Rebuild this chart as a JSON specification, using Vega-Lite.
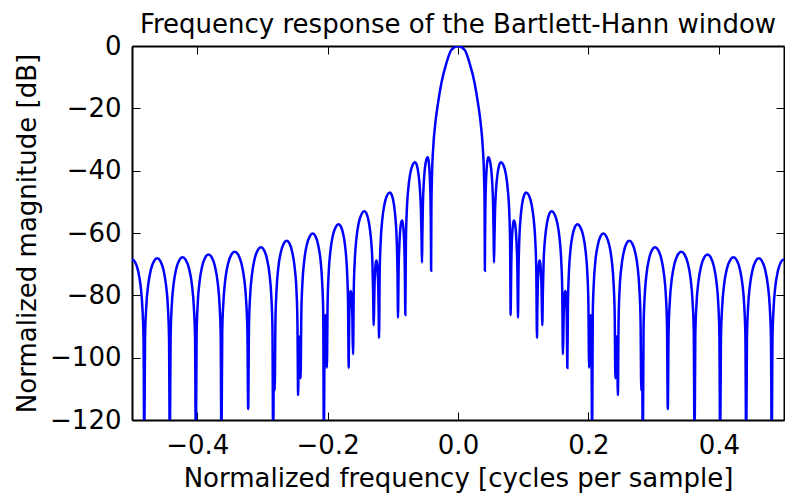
{
"$schema":"https://vega.github.io/schema/vega-lite/v6.json",
"width":652,"height":374,
"autosize":{"type":"none"},
"padding":{"left":132,"top":46,"right":1,"bottom":76},
"background":"white",
"title":{"text":"Frequency response of the Bartlett-Hann window","font":"DejaVu Sans","fontSize":26,"fontWeight":"normal","color":"black","anchor":"middle","baseline":"alphabetic","offset":12,"dy":38},
"config":{"view":{"stroke":null},"axis":{"domainColor":"black","domainWidth":2,"tickColor":"black","tickWidth":1,"tickSize":-8,"grid":false,"labelFont":"DejaVu Sans","labelFontSize":26,"labelColor":"black","titleFont":"DejaVu Sans","titleFontSize":26,"titleFontWeight":"normal","titleColor":"black","zindex":1}},
"data":{"values":[
{"freq":0,"db":0},{"freq":0.0103,"db":-1.3},{"freq":0.0179,"db":-5.6},{"freq":0.0256,"db":-12.0},{"freq":0.0307,"db":-18.4},{"freq":0.0348,"db":-24.8},{"freq":0.0379,"db":-32.3},{"freq":0.0398,"db":-40.9},{"freq":0.0408,"db":-52},{"freq":0.0412,"db":-72.1},
{"freq":0.0415,"db":-61.4},{"freq":0.0420,"db":-51.5},{"freq":0.0428,"db":-44.3},{"freq":0.0439,"db":-39.5},{"freq":0.0452,"db":-36.6},{"freq":0.0465,"db":-35.7},{"freq":0.0487,"db":-36.6},{"freq":0.0509,"db":-39.5},{"freq":0.0526,"db":-44.3},{"freq":0.0539,"db":-51.5},{"freq":0.0547,"db":-61.4},{"freq":0.0552,"db":-69.5},
{"freq":0.0558,"db":-63.0},{"freq":0.0568,"db":-53.1},{"freq":0.0584,"db":-45.9},{"freq":0.0606,"db":-41.1},{"freq":0.0632,"db":-38.2},{"freq":0.0659,"db":-37.3},{"freq":0.0696,"db":-38.2},{"freq":0.0734,"db":-41.1},{"freq":0.0763,"db":-45.9},{"freq":0.0786,"db":-53.1},{"freq":0.0799,"db":-63.0},{"freq":0.0808,"db":-86.3},
{"freq":0.0811,"db":-81.7},{"freq":0.0816,"db":-71.8},{"freq":0.0823,"db":-64.6},{"freq":0.0833,"db":-59.8},{"freq":0.0846,"db":-56.9},{"freq":0.0858,"db":-56.0},{"freq":0.0874,"db":-56.9},{"freq":0.0889,"db":-59.8},{"freq":0.0901,"db":-64.6},{"freq":0.0911,"db":-71.8},{"freq":0.0916,"db":-81.7},{"freq":0.0920,"db":-87.2},
{"freq":0.0928,"db":-72.7},{"freq":0.0939,"db":-62.8},{"freq":0.0958,"db":-55.6},{"freq":0.0983,"db":-50.8},{"freq":0.1014,"db":-47.9},{"freq":0.1045,"db":-47.0},{"freq":0.1087,"db":-47.9},{"freq":0.1128,"db":-50.8},{"freq":0.1161,"db":-55.6},{"freq":0.1186,"db":-62.8},{"freq":0.1201,"db":-72.7},{"freq":0.1211,"db":-93.7},
{"freq":0.1217,"db":-84.6},{"freq":0.1223,"db":-77.4},{"freq":0.1232,"db":-72.6},{"freq":0.1242,"db":-69.7},{"freq":0.1252,"db":-68.8},{"freq":0.1262,"db":-69.7},{"freq":0.1272,"db":-72.6},{"freq":0.1281,"db":-77.4},{"freq":0.1287,"db":-84.6},{"freq":0.1293,"db":-89.6},
{"freq":0.1302,"db":-78.7},{"freq":0.1314,"db":-68.8},{"freq":0.1336,"db":-61.6},{"freq":0.1365,"db":-56.8},{"freq":0.1400,"db":-53.9},{"freq":0.1436,"db":-53.0},{"freq":0.1479,"db":-53.9},{"freq":0.1523,"db":-56.8},{"freq":0.1557,"db":-61.6},{"freq":0.1583,"db":-68.8},{"freq":0.1599,"db":-78.7},{"freq":0.1609,"db":-98.9},
{"freq":0.1615,"db":-94.4},{"freq":0.1620,"db":-87.2},{"freq":0.1628,"db":-82.4},{"freq":0.1637,"db":-79.5},{"freq":0.1646,"db":-78.6},{"freq":0.1654,"db":-79.5},{"freq":0.1662,"db":-82.4},{"freq":0.1668,"db":-87.2},{"freq":0.1672,"db":-94.4},{"freq":0.1677,"db":-103.3},
{"freq":0.1686,"db":-82.9},{"freq":0.1700,"db":-73.0},{"freq":0.1723,"db":-65.8},{"freq":0.1754,"db":-61.0},{"freq":0.1793,"db":-58.1},{"freq":0.1831,"db":-57.2},{"freq":0.1876,"db":-58.1},{"freq":0.1921,"db":-61.0},{"freq":0.1957,"db":-65.8},{"freq":0.1984,"db":-73.0},{"freq":0.2000,"db":-82.9},{"freq":0.2011,"db":-103.2},
{"freq":0.2022,"db":-90},{"freq":0.2034,"db":-86.3},{"freq":0.2046,"db":-90},{"freq":0.2057,"db":-130},
{"freq":0.2067,"db":-85.9},{"freq":0.2083,"db":-76.0},{"freq":0.2108,"db":-68.8},{"freq":0.2143,"db":-64.0},{"freq":0.2185,"db":-61.1},{"freq":0.2228,"db":-60.2},{"freq":0.2274,"db":-61.1},{"freq":0.2321,"db":-64.0},{"freq":0.2358,"db":-68.8},{"freq":0.2386,"db":-76.0},{"freq":0.2403,"db":-85.9},{"freq":0.2414,"db":-106.6},
{"freq":0.2423,"db":-96},{"freq":0.2432,"db":-93.2},{"freq":0.2442,"db":-96},{"freq":0.2452,"db":-112},
{"freq":0.2463,"db":-88.2},{"freq":0.2478,"db":-78.3},{"freq":0.2505,"db":-71.1},{"freq":0.2540,"db":-66.3},{"freq":0.2583,"db":-63.4},{"freq":0.2627,"db":-62.5},{"freq":0.2673,"db":-63.4},{"freq":0.2719,"db":-66.3},{"freq":0.2756,"db":-71.1},{"freq":0.2783,"db":-78.3},{"freq":0.2800,"db":-88.2},{"freq":0.2811,"db":-110.5},
{"freq":0.2823,"db":-99.2},{"freq":0.2835,"db":-130},
{"freq":0.2846,"db":-90.3},{"freq":0.2863,"db":-80.4},{"freq":0.2891,"db":-73.2},{"freq":0.2929,"db":-68.4},{"freq":0.2975,"db":-65.5},{"freq":0.3022,"db":-64.6},{"freq":0.3071,"db":-65.5},{"freq":0.3120,"db":-68.4},{"freq":0.3159,"db":-73.2},{"freq":0.3189,"db":-80.4},{"freq":0.3206,"db":-90.3},{"freq":0.3218,"db":-116.5},
{"freq":0.3230,"db":-91.7},{"freq":0.3249,"db":-81.8},{"freq":0.3280,"db":-74.6},{"freq":0.3321,"db":-69.8},{"freq":0.3373,"db":-66.9},{"freq":0.3424,"db":-66.0},{"freq":0.3475,"db":-66.9},{"freq":0.3526,"db":-69.8},{"freq":0.3567,"db":-74.6},{"freq":0.3597,"db":-81.8},{"freq":0.3616,"db":-91.7},{"freq":0.3628,"db":-130},
{"freq":0.3640,"db":-92.6},{"freq":0.3658,"db":-82.7},{"freq":0.3688,"db":-75.5},{"freq":0.3728,"db":-70.7},{"freq":0.3777,"db":-67.8},{"freq":0.3827,"db":-66.9},{"freq":0.3876,"db":-67.8},{"freq":0.3924,"db":-70.7},{"freq":0.3963,"db":-75.5},{"freq":0.3992,"db":-82.7},{"freq":0.4009,"db":-92.6},{"freq":0.4021,"db":-130},
{"freq":0.4033,"db":-93.5},{"freq":0.4052,"db":-83.6},{"freq":0.4082,"db":-76.4},{"freq":0.4123,"db":-71.6},{"freq":0.4174,"db":-68.7},{"freq":0.4225,"db":-67.8},{"freq":0.4274,"db":-68.7},{"freq":0.4323,"db":-71.6},{"freq":0.4362,"db":-76.4},{"freq":0.4391,"db":-83.6},{"freq":0.4408,"db":-93.5},{"freq":0.4420,"db":-130},
{"freq":0.4432,"db":-93.8},{"freq":0.4449,"db":-83.9},{"freq":0.4478,"db":-76.7},{"freq":0.4517,"db":-71.9},{"freq":0.4565,"db":-69.0},{"freq":0.4613,"db":-68.1},{"freq":0.4663,"db":-69.0},{"freq":0.4712,"db":-71.9},{"freq":0.4752,"db":-76.7},{"freq":0.4782,"db":-83.9},{"freq":0.4800,"db":-93.8},{"freq":0.4812,"db":-130},
{"freq":0.4823,"db":-94.1},{"freq":0.4840,"db":-84.2},{"freq":0.4868,"db":-77.0},{"freq":0.4906,"db":-72.2},{"freq":0.4953,"db":-69.3},{"freq":0.5000,"db":-68.4},
{"freq":-0.0103,"db":-1.3},{"freq":-0.0179,"db":-5.6},{"freq":-0.0256,"db":-12.0},{"freq":-0.0307,"db":-18.4},{"freq":-0.0348,"db":-24.8},{"freq":-0.0379,"db":-32.3},{"freq":-0.0398,"db":-40.9},{"freq":-0.0408,"db":-52},{"freq":-0.0412,"db":-72.1},
{"freq":-0.0415,"db":-61.4},{"freq":-0.0420,"db":-51.5},{"freq":-0.0428,"db":-44.3},{"freq":-0.0439,"db":-39.5},{"freq":-0.0452,"db":-36.6},{"freq":-0.0465,"db":-35.7},{"freq":-0.0487,"db":-36.6},{"freq":-0.0509,"db":-39.5},{"freq":-0.0526,"db":-44.3},{"freq":-0.0539,"db":-51.5},{"freq":-0.0547,"db":-61.4},{"freq":-0.0552,"db":-69.5},
{"freq":-0.0558,"db":-63.0},{"freq":-0.0568,"db":-53.1},{"freq":-0.0584,"db":-45.9},{"freq":-0.0606,"db":-41.1},{"freq":-0.0632,"db":-38.2},{"freq":-0.0659,"db":-37.3},{"freq":-0.0696,"db":-38.2},{"freq":-0.0734,"db":-41.1},{"freq":-0.0763,"db":-45.9},{"freq":-0.0786,"db":-53.1},{"freq":-0.0799,"db":-63.0},{"freq":-0.0808,"db":-86.3},
{"freq":-0.0811,"db":-81.7},{"freq":-0.0816,"db":-71.8},{"freq":-0.0823,"db":-64.6},{"freq":-0.0833,"db":-59.8},{"freq":-0.0846,"db":-56.9},{"freq":-0.0858,"db":-56.0},{"freq":-0.0874,"db":-56.9},{"freq":-0.0889,"db":-59.8},{"freq":-0.0901,"db":-64.6},{"freq":-0.0911,"db":-71.8},{"freq":-0.0916,"db":-81.7},{"freq":-0.0920,"db":-87.2},
{"freq":-0.0928,"db":-72.7},{"freq":-0.0939,"db":-62.8},{"freq":-0.0958,"db":-55.6},{"freq":-0.0983,"db":-50.8},{"freq":-0.1014,"db":-47.9},{"freq":-0.1045,"db":-47.0},{"freq":-0.1087,"db":-47.9},{"freq":-0.1128,"db":-50.8},{"freq":-0.1161,"db":-55.6},{"freq":-0.1186,"db":-62.8},{"freq":-0.1201,"db":-72.7},{"freq":-0.1211,"db":-93.7},
{"freq":-0.1217,"db":-84.6},{"freq":-0.1223,"db":-77.4},{"freq":-0.1232,"db":-72.6},{"freq":-0.1242,"db":-69.7},{"freq":-0.1252,"db":-68.8},{"freq":-0.1262,"db":-69.7},{"freq":-0.1272,"db":-72.6},{"freq":-0.1281,"db":-77.4},{"freq":-0.1287,"db":-84.6},{"freq":-0.1293,"db":-89.6},
{"freq":-0.1302,"db":-78.7},{"freq":-0.1314,"db":-68.8},{"freq":-0.1336,"db":-61.6},{"freq":-0.1365,"db":-56.8},{"freq":-0.1400,"db":-53.9},{"freq":-0.1436,"db":-53.0},{"freq":-0.1479,"db":-53.9},{"freq":-0.1523,"db":-56.8},{"freq":-0.1557,"db":-61.6},{"freq":-0.1583,"db":-68.8},{"freq":-0.1599,"db":-78.7},{"freq":-0.1609,"db":-98.9},
{"freq":-0.1615,"db":-94.4},{"freq":-0.1620,"db":-87.2},{"freq":-0.1628,"db":-82.4},{"freq":-0.1637,"db":-79.5},{"freq":-0.1646,"db":-78.6},{"freq":-0.1654,"db":-79.5},{"freq":-0.1662,"db":-82.4},{"freq":-0.1668,"db":-87.2},{"freq":-0.1672,"db":-94.4},{"freq":-0.1677,"db":-103.3},
{"freq":-0.1686,"db":-82.9},{"freq":-0.1700,"db":-73.0},{"freq":-0.1723,"db":-65.8},{"freq":-0.1754,"db":-61.0},{"freq":-0.1793,"db":-58.1},{"freq":-0.1831,"db":-57.2},{"freq":-0.1876,"db":-58.1},{"freq":-0.1921,"db":-61.0},{"freq":-0.1957,"db":-65.8},{"freq":-0.1984,"db":-73.0},{"freq":-0.2000,"db":-82.9},{"freq":-0.2011,"db":-103.2},
{"freq":-0.2022,"db":-90},{"freq":-0.2034,"db":-86.3},{"freq":-0.2046,"db":-90},{"freq":-0.2057,"db":-130},
{"freq":-0.2067,"db":-85.9},{"freq":-0.2083,"db":-76.0},{"freq":-0.2108,"db":-68.8},{"freq":-0.2143,"db":-64.0},{"freq":-0.2185,"db":-61.1},{"freq":-0.2228,"db":-60.2},{"freq":-0.2274,"db":-61.1},{"freq":-0.2321,"db":-64.0},{"freq":-0.2358,"db":-68.8},{"freq":-0.2386,"db":-76.0},{"freq":-0.2403,"db":-85.9},{"freq":-0.2414,"db":-106.6},
{"freq":-0.2423,"db":-96},{"freq":-0.2432,"db":-93.2},{"freq":-0.2442,"db":-96},{"freq":-0.2452,"db":-112},
{"freq":-0.2463,"db":-88.2},{"freq":-0.2478,"db":-78.3},{"freq":-0.2505,"db":-71.1},{"freq":-0.2540,"db":-66.3},{"freq":-0.2583,"db":-63.4},{"freq":-0.2627,"db":-62.5},{"freq":-0.2673,"db":-63.4},{"freq":-0.2719,"db":-66.3},{"freq":-0.2756,"db":-71.1},{"freq":-0.2783,"db":-78.3},{"freq":-0.2800,"db":-88.2},{"freq":-0.2811,"db":-110.5},
{"freq":-0.2823,"db":-99.2},{"freq":-0.2835,"db":-130},
{"freq":-0.2846,"db":-90.3},{"freq":-0.2863,"db":-80.4},{"freq":-0.2891,"db":-73.2},{"freq":-0.2929,"db":-68.4},{"freq":-0.2975,"db":-65.5},{"freq":-0.3022,"db":-64.6},{"freq":-0.3071,"db":-65.5},{"freq":-0.3120,"db":-68.4},{"freq":-0.3159,"db":-73.2},{"freq":-0.3189,"db":-80.4},{"freq":-0.3206,"db":-90.3},{"freq":-0.3218,"db":-116.5},
{"freq":-0.3230,"db":-91.7},{"freq":-0.3249,"db":-81.8},{"freq":-0.3280,"db":-74.6},{"freq":-0.3321,"db":-69.8},{"freq":-0.3373,"db":-66.9},{"freq":-0.3424,"db":-66.0},{"freq":-0.3475,"db":-66.9},{"freq":-0.3526,"db":-69.8},{"freq":-0.3567,"db":-74.6},{"freq":-0.3597,"db":-81.8},{"freq":-0.3616,"db":-91.7},{"freq":-0.3628,"db":-130},
{"freq":-0.3640,"db":-92.6},{"freq":-0.3658,"db":-82.7},{"freq":-0.3688,"db":-75.5},{"freq":-0.3728,"db":-70.7},{"freq":-0.3777,"db":-67.8},{"freq":-0.3827,"db":-66.9},{"freq":-0.3876,"db":-67.8},{"freq":-0.3924,"db":-70.7},{"freq":-0.3963,"db":-75.5},{"freq":-0.3992,"db":-82.7},{"freq":-0.4009,"db":-92.6},{"freq":-0.4021,"db":-130},
{"freq":-0.4033,"db":-93.5},{"freq":-0.4052,"db":-83.6},{"freq":-0.4082,"db":-76.4},{"freq":-0.4123,"db":-71.6},{"freq":-0.4174,"db":-68.7},{"freq":-0.4225,"db":-67.8},{"freq":-0.4274,"db":-68.7},{"freq":-0.4323,"db":-71.6},{"freq":-0.4362,"db":-76.4},{"freq":-0.4391,"db":-83.6},{"freq":-0.4408,"db":-93.5},{"freq":-0.4420,"db":-130},
{"freq":-0.4432,"db":-93.8},{"freq":-0.4449,"db":-83.9},{"freq":-0.4478,"db":-76.7},{"freq":-0.4517,"db":-71.9},{"freq":-0.4565,"db":-69.0},{"freq":-0.4613,"db":-68.1},{"freq":-0.4663,"db":-69.0},{"freq":-0.4712,"db":-71.9},{"freq":-0.4752,"db":-76.7},{"freq":-0.4782,"db":-83.9},{"freq":-0.4800,"db":-93.8},{"freq":-0.4812,"db":-130},
{"freq":-0.4823,"db":-94.1},{"freq":-0.4840,"db":-84.2},{"freq":-0.4868,"db":-77.0},{"freq":-0.4906,"db":-72.2},{"freq":-0.4953,"db":-69.3},{"freq":-0.5000,"db":-68.4}
]},
"layer":[
{"mark":{"type":"line","color":"#0000ff","strokeWidth":2.5,"clip":true,"interpolate":"monotone"},
 "encoding":{
  "x":{"field":"freq","type":"quantitative","scale":{"domain":[-0.5,0.5],"nice":false,"zero":false},
       "axis":{"orient":"bottom","values":[-0.4,-0.2,0,0.2,0.4],"format":".1f","labelPadding":20,"title":"Normalized frequency [cycles per sample]","titlePadding":7}},
  "y":{"field":"db","type":"quantitative","scale":{"domain":[-120,0],"nice":false,"zero":false},
       "axis":{"orient":"left","values":[-120,-100,-80,-60,-40,-20,0],"format":"d","labelPadding":19,"title":"Normalized magnitude [dB]","titlePadding":9}}}},
{"mark":{"type":"line","opacity":0,"clip":true},
 "encoding":{
  "x":{"field":"freq","type":"quantitative","axis":{"orient":"top","values":[-0.4,-0.2,0,0.2,0.4],"labels":false,"title":null}},
  "y":{"field":"db","type":"quantitative","axis":{"orient":"right","values":[-120,-100,-80,-60,-40,-20,0],"labels":false,"title":null}}}}
],
"resolve":{"axis":{"x":"independent","y":"independent"}}
}
